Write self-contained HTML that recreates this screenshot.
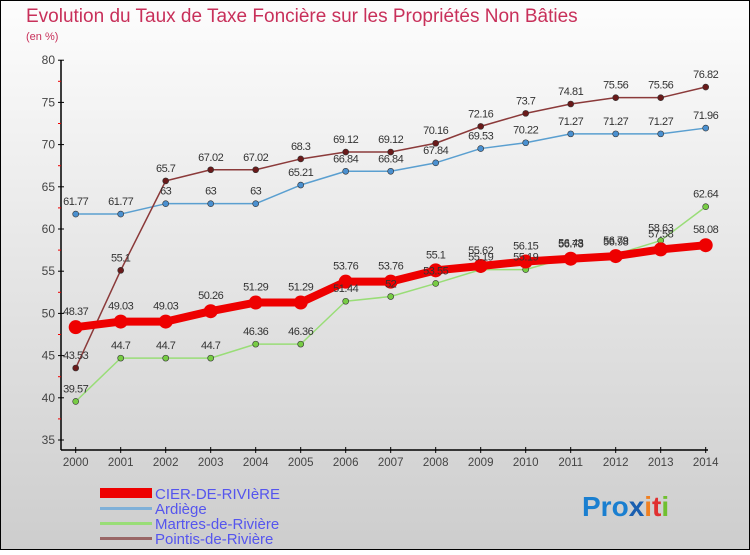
<!DOCTYPE html>
<html><head><meta charset="utf-8"><style>
body{margin:0;width:750px;height:550px;overflow:hidden}
svg text{font-family:"Liberation Sans",sans-serif}
</style></head><body>
<svg width="750" height="550" xmlns="http://www.w3.org/2000/svg">
<defs><linearGradient id="bg" x1="0" y1="0" x2="0" y2="1"><stop offset="0" stop-color="#fdfdfd"/><stop offset="1" stop-color="#cdcdcd"/></linearGradient></defs>
<rect x="0.5" y="0.5" width="749" height="549" fill="url(#bg)" stroke="#000"/>
<text x="26" y="22" font-size="19" fill="#c8305a">Evolution du Taux de Taxe Foncière sur les Propriétés Non Bâties</text>
<text x="26" y="40" font-size="11" fill="#c8305a">(en %)</text>
<g id="axes"></g><g id="series"></g><g id="labels"></g>
<g font-size="15" fill="#5555ee">
<rect x="100" y="488" width="52" height="10" fill="#ee0000"/>
<text x="155" y="499">CIER-DE-RIVIèRE</text>
<rect x="100" y="507" width="52" height="3" fill="#7fb0d8"/>
<text x="155" y="514">Ardiège</text>
<rect x="100" y="522" width="52" height="3" fill="#99dd77"/>
<text x="155" y="529">Martres-de-Rivière</text>
<rect x="100" y="537" width="52" height="3" fill="#996666"/>
<text x="155" y="544">Pointis-de-Rivière</text>
</g>
<g font-size="28" font-weight="bold" font-family="Liberation Sans">
<text x="582" y="516"><tspan fill="#1a7fd0">Pro</tspan><tspan fill="#1a5fb0">x</tspan><tspan fill="#f08020">i</tspan><tspan fill="#e03030">t</tspan><tspan fill="#70c030">i</tspan></text>
</g>
</svg>
<script>
const years=[2000,2001,2002,2003,2004,2005,2006,2007,2008,2009,2010,2011,2012,2013,2014];
const mainVals=[48.37,49.03,49.03,50.26,51.29,51.29,53.76,53.76,55.1,55.62,56.15,56.48,56.79,57.58,58.08];
const ardiegeVals=[61.77,61.77,63,63,63,65.21,66.84,66.84,67.84,69.53,70.22,71.27,71.27,71.27,71.96];
const martresVals=[39.57,44.7,44.7,44.7,46.36,46.36,51.44,52,53.55,55.19,55.19,56.73,56.98,58.63,62.64];
const pointisVals=[43.53,55.1,65.7,67.02,67.02,68.3,69.12,69.12,70.16,72.16,73.7,74.81,75.56,75.56,76.82];
const yTicks=[35,40,45,50,55,60,65,70,75,80];
const NS="http://www.w3.org/2000/svg";
const X=i=>75.7+i*(705.7-75.7)/(years.length-1);
const Y=v=>440-(v-35)*8.44;
function mk(tag,attrs,parent){const e=document.createElementNS(NS,tag);for(const k in attrs)e.setAttribute(k,attrs[k]);parent.appendChild(e);return e;}
const ax=document.getElementById('axes'),sg=document.getElementById('series'),lg=document.getElementById('labels');
let a=mk('line',{x1:61,y1:Y(80),x2:61,y2:450,stroke:'#000','stroke-width':1.5},ax);


a=mk('line',{x1:61,y1:450,x2:708,y2:450,stroke:'#000','stroke-width':1.5},ax);


yTicks.forEach((t,i)=>{
 mk('line',{x1:58,y1:Y(t),x2:64,y2:Y(t),stroke:'#000'},ax);
 if(i<yTicks.length-1)mk('line',{x1:58,y1:Y(t+2.5),x2:61,y2:Y(t+2.5),stroke:'#e00'},ax);
 const tx=mk('text',{x:55,y:Y(t)+4,'font-size':12,fill:'#444','text-anchor':'end'},ax);tx.textContent=t;
 
 
});
years.forEach((yr,i)=>{
 mk('line',{x1:X(i),y1:447,x2:X(i),y2:453,stroke:'#000'},ax);
 const tx=mk('text',{x:X(i),y:466,'font-size':11.5,fill:'#444','text-anchor':'middle'},ax);tx.textContent=yr;
 
 
});
function series(vals,color,dot,w,r,name){
 const p=mk('polyline',{points:vals.map((v,i)=>X(i)+','+Y(v)).join(' '),fill:'none',stroke:color,'stroke-width':w,'stroke-linejoin':'round'},sg);
 
 
 vals.forEach((v,i)=>{
  const c=mk('circle',{cx:X(i),cy:Y(v),r:r,fill:dot,stroke:r>5?'none':'#333','stroke-width':0.6},sg);
  
  
  const t=mk('text',{x:X(i),y:Y(v)-9-(r>5?3:0),'font-size':11,fill:'#333','text-anchor':'middle','letter-spacing':'-0.5'},lg);
  t.textContent=String(v);
  
  
 });
}
series(ardiegeVals,'#5a9fd0','#4a90d0',1.5,3,'ardiege');
series(pointisVals,'#8b3a3a','#6a1a1a',1.5,3,'pointis');
series(martresVals,'#99dd77','#77cc44',1.5,3,'martres');
series(mainVals,'#ee0000','#ee0000',8,7,'main');
</script>
</body></html>
